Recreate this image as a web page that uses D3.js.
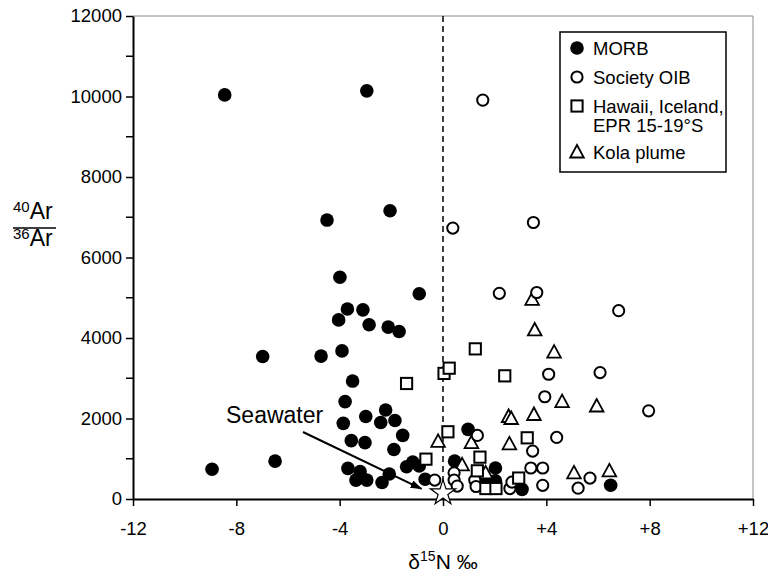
<!DOCTYPE html>
<html>
  <head>
    <meta charset="utf-8">
    <title>Argon vs nitrogen isotopes</title>
    <script src="https://cdn.jsdelivr.net/npm/d3@7"></script>
    <style>
      body { margin: 0; background: #fff; }
      svg { display: block; font-family: "Liberation Sans", Arial, Helvetica, sans-serif; }
      .tick text { font-size: 18.5px; fill: #000; }
    </style>
  </head>
  <body>
    <svg id="chart" width="768" height="577"></svg>
    <script>
      // data: [d15N, 40Ar/36Ar]
      const morb = [
        [-8.45, 10040], [-2.95, 10140], [-4.49, 6930], [-2.05, 7160], [-3.99, 5510],
        [-0.92, 5100], [-3.70, 4720], [-3.10, 4700], [-4.04, 4450], [-2.86, 4330],
        [-2.12, 4270], [-1.70, 4160], [-6.98, 3540], [-4.72, 3550], [-3.91, 3680],
        [-3.50, 2930], [-3.79, 2420], [-2.99, 2050], [-2.22, 2210], [-3.86, 1880],
        [-2.41, 1900], [-1.86, 1950], [-1.56, 1580], [-3.55, 1450], [-3.02, 1400],
        [-1.90, 1230], [-8.94, 740], [-6.50, 940], [-3.68, 760], [-3.21, 680],
        [-3.37, 470], [-2.95, 470], [-2.36, 410], [-2.08, 620], [-1.41, 800],
        [-1.17, 920], [-0.92, 820], [-0.69, 490], [0.97, 1730], [0.45, 940],
        [2.03, 770], [1.61, 455], [2.03, 455], [3.06, 240], [6.49, 340]
      ];
      const societyOib = [
        [1.54, 9910], [0.38, 6730], [3.50, 6870], [2.18, 5110], [3.63, 5130],
        [6.80, 4680], [4.09, 3100], [6.08, 3140], [3.94, 2540], [7.96, 2190],
        [1.33, 1580], [4.40, 1530], [3.47, 1190], [3.40, 770], [3.86, 770],
        [5.69, 520], [5.23, 270], [3.86, 340], [2.59, 260], [2.67, 420],
        [1.23, 470], [1.28, 310], [0.43, 650], [0.43, 470], [0.55, 320],
        [-0.32, 470]
      ];
      const hawaiiIcelandEpr = [
        [-1.41, 2870], [0.04, 3120], [0.24, 3250], [0.19, 1670], [-0.66, 990],
        [1.25, 3730], [2.39, 3060], [3.26, 1520], [1.43, 1040], [1.33, 700],
        [2.93, 520], [1.66, 260], [2.05, 260]
      ];
      const kolaPlume = [
        [3.45, 4960], [3.55, 4200], [4.30, 3650], [4.61, 2420], [5.95, 2310],
        [2.54, 2050], [2.64, 2000], [3.52, 2100], [1.10, 1400], [2.57, 1370],
        [-0.19, 1430], [0.74, 850], [5.07, 650], [6.44, 700], [1.65, 650]
      ];
      const seawater = [[0, 150]];
      const arrowFrom = [-5.42, 1665];
      const arrowTo = [-0.83, 250];
      const xTickValues = [-12, -8, -4, 0, 4, 8, 12];
      const xTickLabels = ["-12", "-8", "-4", "0", "+4", "+8", "+12"];
      const yTickValues = [0, 2000, 4000, 6000, 8000, 10000, 12000];
      const yMinorTicks = [1000, 3000, 5000, 7000, 9000, 11000];
      const legendItems = [
        { shape: "filled", lines: ["MORB"] },
        { shape: "circle", lines: ["Society OIB"] },
        { shape: "square", lines: ["Hawaii, Iceland,", "EPR 15-19°S"] },
        { shape: "triangle", lines: ["Kola plume"] }
      ];

      // layout
      chart = d3.select("#chart");
      margin = { top: 16, right: 15, bottom: 78, left: 133 };
      width = 768;
      height = 577;
      x = d3.scaleLinear().domain([-12, 12]).range([margin.left, width - margin.right]);
      y = d3.scaleLinear().domain([0, 12000]).range([height - margin.bottom, margin.top]);

      // frame (top and right are faint)
      chart.append("path")
        .attr("d", "M" + x(-12) + "," + y(12000) + "H" + x(12) + "V" + y(0))
        .attr("fill", "none")
        .attr("stroke", "#8a8a8a")
        .attr("stroke-width", 1);

      // zero line
      chart.append("line")
        .attr("x1", x(0)).attr("x2", x(0))
        .attr("y1", y(12000)).attr("y2", y(0))
        .attr("stroke", "#000")
        .attr("stroke-width", 1.5)
        .attr("stroke-dasharray", "6,4");

      // axes
      xAxis = d3.axisBottom(x)
        .tickValues(xTickValues)
        .tickFormat(function(d, i) { return xTickLabels[i]; })
        .tickSize(7)
        .tickPadding(16)
        .tickSizeOuter(0);
      yAxis = d3.axisLeft(y)
        .tickValues(yTickValues)
        .tickFormat(d3.format("d"))
        .tickSize(7)
        .tickPadding(4)
        .tickSizeOuter(0);
      chart.append("g")
        .attr("transform", "translate(0," + y(0) + ")")
        .call(xAxis)
        .call(function(g) {
          g.select(".domain").attr("stroke-width", 2);
          g.selectAll(".tick line").attr("stroke-width", 1.5);
        });
      yg = chart.append("g")
        .attr("transform", "translate(" + x(-12) + ",0)")
        .call(yAxis)
        .call(function(g) {
          g.select(".domain").attr("stroke-width", 2);
          g.selectAll(".tick line").attr("stroke-width", 1.5);
        });
      yg.selectAll(".minor")
        .data(yMinorTicks)
        .join("line")
        .attr("class", "minor")
        .attr("x1", -7).attr("x2", 0)
        .attr("y1", function(d) { return y(d); })
        .attr("y2", function(d) { return y(d); })
        .attr("stroke", "#000")
        .attr("stroke-width", 1.5);

      // axis titles
      xTitle = chart.append("text")
        .attr("x", x(0))
        .attr("y", 569)
        .attr("text-anchor", "middle")
        .attr("font-size", 21);
      xTitle.append("tspan").text("δ");
      xTitle.append("tspan").attr("font-size", 14).attr("dy", -8).text("15");
      xTitle.append("tspan").attr("dy", 8).text("N ‰");

      num = chart.append("text").attr("x", 13).attr("y", 219).attr("font-size", 23);
      num.append("tspan").attr("font-size", 15).attr("dy", -7).text("40");
      num.append("tspan").attr("dy", 7).text("Ar");
      chart.append("line")
        .attr("x1", 13).attr("x2", 56)
        .attr("y1", 228).attr("y2", 228)
        .attr("stroke", "#000").attr("stroke-width", 1.5);
      den = chart.append("text").attr("x", 13).attr("y", 246).attr("font-size", 23);
      den.append("tspan").attr("font-size", 15).attr("dy", -7).text("36");
      den.append("tspan").attr("dy", 7).text("Ar");

      // marker shapes
      function trianglePath(cx, cy) {
        return "M" + cx + "," + (cy - 7) + "L" + (cx - 6.8) + "," + (cy + 5.5) + "L" + (cx + 6.8) + "," + (cy + 5.5) + "Z";
      }
      function drawShape(g, shape, cx, cy) {
        if (shape == "filled") {
          g.append("circle").attr("cx", cx).attr("cy", cy).attr("r", 6.8).attr("fill", "#000");
        } else if (shape == "circle") {
          g.append("circle").attr("cx", cx).attr("cy", cy).attr("r", 5.6)
            .attr("fill", "#fff").attr("stroke", "#000").attr("stroke-width", 2);
        } else if (shape == "square") {
          g.append("rect").attr("x", cx - 5.6).attr("y", cy - 5.6).attr("width", 11.2).attr("height", 11.2)
            .attr("fill", "#fff").attr("stroke", "#000").attr("stroke-width", 2);
        } else {
          g.append("path").attr("d", trianglePath(cx, cy))
            .attr("fill", "#fff").attr("stroke", "#000").attr("stroke-width", 1.8)
            .attr("stroke-linejoin", "miter");
        }
      }

      // points
      points = chart.append("g");
      [[morb, "filled"], [kolaPlume, "triangle"], [societyOib, "circle"], [hawaiiIcelandEpr, "square"]]
        .forEach(function(s) {
          s[0].forEach(function(d) { drawShape(points, s[1], x(d[0]), y(d[1])); });
        });

      // seawater annotation
      chart.append("defs").append("marker")
        .attr("id", "arrowHead")
        .attr("viewBox", "0 0 12 8")
        .attr("refX", 11).attr("refY", 4)
        .attr("markerWidth", 12).attr("markerHeight", 8)
        .attr("markerUnits", "userSpaceOnUse")
        .attr("orient", "auto")
        .append("path")
        .attr("d", "M0,0L12,4L0,8Z")
        .attr("fill", "#000");
      chart.append("line")
        .attr("x1", x(arrowFrom[0])).attr("y1", y(arrowFrom[1]))
        .attr("x2", x(arrowTo[0])).attr("y2", y(arrowTo[1]))
        .attr("stroke", "#000").attr("stroke-width", 2)
        .attr("marker-end", "url(#arrowHead)");
      chart.append("text")
        .attr("x", x(-8.4)).attr("y", y(1890))
        .attr("font-size", 23)
        .text("Seawater");
      chart.selectAll(".star")
        .data(seawater)
        .join("path")
        .attr("class", "star")
        .attr("transform", function(d) { return "translate(" + x(d[0]) + "," + y(d[1]) + ")"; })
        .attr("d", d3.symbol(d3.symbolStar, 200))
        .attr("fill", "#fff")
        .attr("stroke", "#000")
        .attr("stroke-width", 1.2);

      // legend
      legend = chart.append("g");
      legend.append("rect")
        .attr("x", 560).attr("y", 32).attr("width", 166).attr("height", 140)
        .attr("fill", "#fff").attr("stroke", "#000").attr("stroke-width", 1.5);
      legendRows = [48, 77, 106, 152];
      legendItems.forEach(function(item, i) {
        drawShape(legend, item.shape, 577, legendRows[i]);
        item.lines.forEach(function(line, j) {
          legend.append("text")
            .attr("x", 593)
            .attr("y", legendRows[i] + 6.5 + j * 19.5)
            .attr("font-size", 18.5)
            .text(line);
        });
      });
    </script>
  </body>
</html>
